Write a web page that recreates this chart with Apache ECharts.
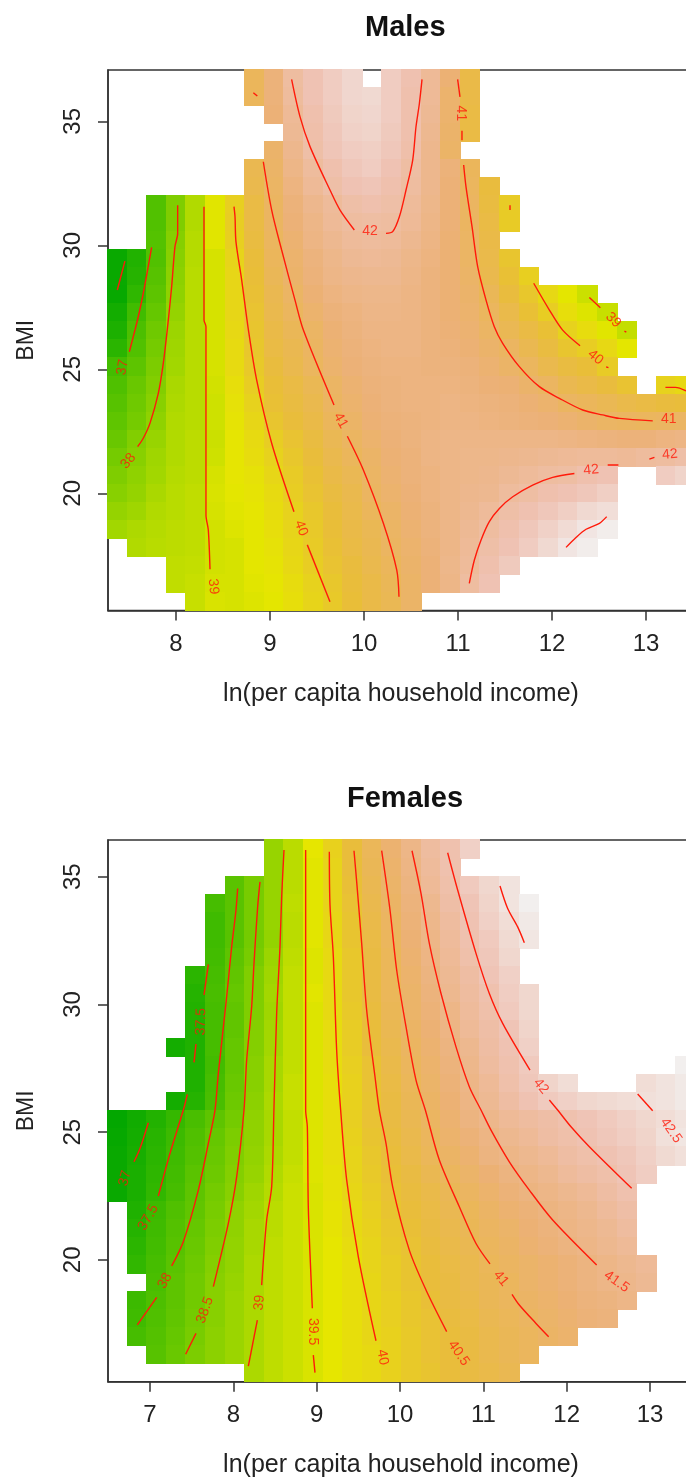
<!DOCTYPE html>
<html><head><meta charset="utf-8">
<style>html,body{margin:0;padding:0;background:#fff}#c{width:686px;height:1478px}</style>
<script src="https://cdn.jsdelivr.net/npm/echarts@6/dist/echarts.min.js"></script>
</head><body><div id="c"></div>
<script>
const _ = null;
const xTicksM = [8,9,10,11,12,13], yTicksM = [20,25,30,35];
const xTicksF = [7,8,9,10,11,12,13], yTicksF = [20,25,30,35];
const maleIncome = [7.376,7.584,7.793,8.001,8.21,8.418,8.627,8.835,9.044,9.252,9.461,9.669,9.878,10.086,10.295,10.503,10.712,10.92,11.129,11.337,11.546,11.754,11.963,12.171,12.38,12.588,12.797,13.005,13.214,13.422];
const maleBmi = [36.725,35.998,35.271,34.544,33.817,33.09,32.363,31.636,30.909,30.182,29.455,28.728,28.001,27.274,26.547,25.82,25.093,24.366,23.639,22.912,22.185,21.458,20.731,20.004,19.277,18.55,17.823,17.096,16.369,15.642];
const femaleIncome = [6.608,6.843,7.078,7.314,7.549,7.784,8.019,8.254,8.49,8.725,8.96,9.195,9.43,9.666,9.901,10.136,10.371,10.606,10.842,11.077,11.312,11.547,11.782,12.018,12.253,12.488,12.723,12.958,13.194,13.429];
const femaleBmi = [36.087,35.38,34.672,33.965,33.258,32.551,31.844,31.137,30.43,29.722,29.015,28.308,27.601,26.894,26.187,25.48,24.772,24.065,23.358,22.651,21.944,21.237,20.53,19.822,19.115,18.408,17.701,16.994,16.287,15.58];

// each row: first column index, then the values from that column on (top row first)
const maleRows = [
[7,40.9,41.4,42.0,42.3,42.5,42.7,_,42.5,42.25,41.85,41.3,40.6],
[7,40.9,41.4,41.95,42.3,42.5,42.7,42.75,42.5,42.2,41.85,41.2,40.6],
[8,41.35,41.85,42.2,42.45,42.65,42.7,42.5,42.2,41.8,41.2,40.55],
[9,41.8,42.15,42.4,42.6,42.65,42.45,42.2,41.75,41.15,40.55],
[8,41.15,41.7,42.1,42.35,42.5,42.55,42.4,42.15,41.7,41.1],
[7,40.75,41.1,41.6,41.95,42.2,42.4,42.5,42.3,42.05,41.7,41.4,40.9],
[7,40.7,41.05,41.5,41.85,42.1,42.3,42.35,42.2,42.0,41.7,41.35,40.95,40.45],
[2,37.2,37.95,38.7,39.35,39.95,40.55,41.0,41.4,41.7,41.9,42.1,42.2,42.1,41.9,41.65,41.35,41.0,40.5,40.05],
[2,37.2,37.95,38.7,39.35,40.0,40.55,41.0,41.35,41.6,41.85,42.0,42.05,42.0,41.85,41.6,41.35,41.0,40.55,40.05],
[2,37.25,38.05,38.75,39.35,39.95,40.5,40.95,41.25,41.55,41.75,41.9,41.95,41.9,41.75,41.55,41.3,41.05,40.6],
[0,35.8,36.3,37.2,38.1,38.75,39.2,39.85,40.4,40.9,41.2,41.45,41.65,41.8,41.85,41.8,41.65,41.5,41.3,41.05,40.65,40.2],
[0,35.8,36.4,37.3,38.15,38.8,39.2,39.8,40.35,40.85,41.15,41.4,41.6,41.7,41.75,41.75,41.6,41.45,41.3,41.1,40.7,40.3,39.95],
[0,35.75,36.6,37.4,38.2,38.8,39.2,39.8,40.3,40.75,41.05,41.3,41.5,41.6,41.65,41.65,41.55,41.45,41.3,41.15,40.85,40.45,40.15,39.75,39.4,39.05],
[0,36.0,36.9,37.55,38.3,38.8,39.2,39.8,40.25,40.7,40.95,41.2,41.4,41.5,41.6,41.6,41.55,41.45,41.3,41.2,40.95,40.65,40.3,40.0,39.6,39.3,39.0],
[0,36.2,37.1,37.7,38.4,38.8,39.2,39.75,40.2,40.6,40.85,41.05,41.3,41.45,41.55,41.55,41.55,41.45,41.35,41.25,41.05,40.8,40.55,40.3,39.9,39.65,39.35,38.95],
[0,36.5,37.2,37.8,38.45,38.8,39.2,39.7,40.15,40.55,40.75,41.0,41.25,41.4,41.5,41.55,41.55,41.45,41.4,41.3,41.15,41.0,40.75,40.5,40.2,40.0,39.75,39.4],
[0,36.95,37.4,37.9,38.5,38.8,39.2,39.7,40.1,40.45,40.7,40.95,41.2,41.35,41.45,41.5,41.5,41.45,41.45,41.4,41.25,41.1,40.95,40.7,40.5,40.35,40.05],
[0,37.15,37.6,38.0,38.6,38.8,39.15,39.6,40.0,40.35,40.55,40.8,41.05,41.25,41.4,41.45,41.5,41.5,41.5,41.45,41.35,41.3,41.15,41.0,40.75,40.6,40.45,40.25,_,39.9,39.75],
[0,37.3,37.7,38.1,38.65,38.8,39.1,39.55,39.9,40.3,40.5,40.7,41.0,41.2,41.35,41.45,41.5,41.5,41.55,41.5,41.45,41.4,41.3,41.2,41.0,40.9,40.8,40.65,40.55,40.45,40.4],
[0,37.45,37.8,38.2,38.7,38.8,39.1,39.5,39.8,40.2,40.4,40.6,40.9,41.1,41.3,41.4,41.45,41.5,41.55,41.55,41.5,41.45,41.4,41.35,41.25,41.15,41.05,41.0,40.95,41.0,41.05],
[0,37.6,38.0,38.35,38.7,38.85,39.05,39.45,39.7,40.0,40.25,40.5,40.8,41.0,41.2,41.35,41.45,41.55,41.6,41.6,41.6,41.6,41.6,41.6,41.55,41.5,41.45,41.4,41.4,41.5,41.55],
[0,37.8,38.1,38.45,38.7,38.85,39.1,39.45,39.65,39.9,40.15,40.4,40.7,40.9,41.1,41.3,41.4,41.55,41.6,41.65,41.65,41.7,41.75,41.8,41.85,41.9,41.9,41.85,41.95,42.0,42.1],
[0,37.95,38.2,38.5,38.75,38.85,39.2,39.45,39.55,39.8,40.05,40.3,40.6,40.8,41.05,41.25,41.4,41.5,41.6,41.65,41.7,41.8,41.9,42.0,42.05,42.2,42.3,_,_,42.5,42.65],
[0,38.1,38.3,38.6,38.8,38.9,39.25,39.4,39.5,39.7,40.0,40.25,40.5,40.7,41.0,41.2,41.35,41.5,41.6,41.7,41.75,41.95,42.05,42.2,42.3,42.4,42.55],
[0,38.3,38.45,38.7,38.8,38.9,39.2,39.35,39.45,39.65,39.9,40.15,40.4,40.65,40.9,41.1,41.3,41.45,41.6,41.75,41.9,42.1,42.25,42.4,42.55,42.75,42.85],
[0,38.5,38.65,38.75,38.85,38.9,39.15,39.3,39.4,39.6,39.85,40.1,40.35,40.6,40.8,41.05,41.25,41.45,41.6,41.8,42.0,42.2,42.4,42.6,42.8,43.0,43.15],
[1,38.7,38.8,38.85,38.9,39.15,39.2,39.4,39.55,39.8,40.05,40.3,40.55,40.75,41.0,41.2,41.4,41.6,41.85,42.1,42.3,42.5,42.75,43.0,43.15],
[3,38.9,38.95,39.15,39.2,39.4,39.5,39.75,40.0,40.25,40.45,40.7,40.9,41.15,41.35,41.65,41.9,42.2,42.45],
[3,38.9,39.0,39.2,39.2,39.35,39.45,39.65,39.9,40.15,40.4,40.6,40.85,41.1,41.35,41.6,42.0,42.3],
[4,39.0,39.25,39.2,39.3,39.4,39.6,39.85,40.1,40.35,40.6,40.8,41.1]
];
const femaleRows = [
[8,38.8,39.2,39.7,40.1,40.5,40.9,41.2,41.5,41.8,42.0,42.3],
[8,38.8,39.2,39.65,40.05,40.5,40.85,41.15,41.45,41.75,42.0],
[6,38.0,38.4,38.8,39.2,39.65,40.05,40.45,40.8,41.1,41.4,41.7,41.95,42.2,42.4,42.6],
[5,37.7,38.0,38.4,38.8,39.25,39.65,40.05,40.4,40.75,41.05,41.35,41.6,41.9,42.1,42.35,42.6,42.8],
[5,37.6,38.0,38.4,38.8,39.2,39.65,40.0,40.35,40.7,41.0,41.3,41.55,41.8,42.05,42.3,42.5,42.7],
[5,37.6,37.95,38.35,38.75,39.2,39.65,40.0,40.35,40.65,40.95,41.25,41.5,41.75,42.0,42.2,42.45,42.65],
[5,37.65,38.05,38.4,38.85,39.25,39.6,39.95,40.3,40.6,40.9,41.2,41.45,41.7,41.95,42.15,42.4],
[4,37.3,37.7,38.1,38.5,38.9,39.3,39.6,39.95,40.3,40.6,40.9,41.15,41.4,41.65,41.85,42.1,42.3],
[4,37.2,37.75,38.15,38.5,38.95,39.3,39.65,39.95,40.3,40.6,40.9,41.1,41.35,41.6,41.8,42.0,42.25,42.4],
[4,37.15,37.7,38.1,38.5,38.9,39.3,39.6,39.95,40.25,40.55,40.85,41.1,41.3,41.5,41.75,41.95,42.2,42.4],
[4,37.1,37.7,38.1,38.55,38.95,39.3,39.6,39.9,40.2,40.5,40.8,41.05,41.25,41.45,41.7,41.9,42.1,42.35],
[3,36.9,37.1,37.7,38.15,38.55,38.95,39.3,39.6,39.9,40.2,40.5,40.75,41.0,41.2,41.4,41.6,41.85,42.05,42.3],
[4,37.1,37.65,38.15,38.6,39.0,39.3,39.6,39.9,40.15,40.4,40.7,40.95,41.15,41.35,41.55,41.8,42.0,42.2,_,_,_,_,_,_,_,42.8],
[4,37.1,37.7,38.2,38.6,39.0,39.35,39.6,39.85,40.1,40.4,40.65,40.9,41.1,41.3,41.5,41.7,41.95,42.15,42.35,42.5,_,_,_,42.5,42.6,42.7],
[3,36.9,37.2,37.75,38.25,38.65,39.05,39.35,39.6,39.85,40.1,40.35,40.6,40.85,41.05,41.25,41.45,41.65,41.85,42.05,42.2,42.3,42.4,42.45,42.5,42.55,42.6,42.7],
[0,36.6,36.85,37.15,37.45,37.75,38.05,38.35,38.7,39.0,39.3,39.6,39.85,40.15,40.4,40.6,40.8,41.0,41.2,41.4,41.55,41.7,41.8,41.9,42.0,42.1,42.2,42.3,42.4,42.5,42.6],
[0,36.65,36.9,37.25,37.55,37.85,38.15,38.45,38.7,39.0,39.3,39.6,39.85,40.1,40.35,40.55,40.75,40.95,41.15,41.3,41.45,41.6,41.7,41.85,41.95,42.05,42.15,42.25,42.35,42.55,42.65],
[0,36.7,36.95,37.3,37.6,37.9,38.2,38.5,38.75,39.05,39.3,39.6,39.85,40.05,40.3,40.5,40.7,40.9,41.05,41.2,41.4,41.5,41.6,41.7,41.85,41.95,42.05,42.15,42.3,42.45,42.55],
[0,36.7,37.0,37.35,37.65,38.0,38.25,38.55,38.8,39.1,39.35,39.6,39.8,40.05,40.25,40.45,40.6,40.8,40.95,41.1,41.25,41.4,41.5,41.6,41.75,41.85,41.95,42.1,42.25],
[0,36.7,37.0,37.4,37.7,38.05,38.35,38.6,38.9,39.15,39.4,39.55,39.8,40.0,40.2,40.4,40.55,40.7,40.85,41.0,41.15,41.3,41.4,41.5,41.6,41.7,41.85,42.0],
[1,37.1,37.55,37.85,38.1,38.4,38.7,38.95,39.2,39.4,39.55,39.75,39.95,40.15,40.35,40.5,40.65,40.8,40.9,41.05,41.2,41.3,41.4,41.5,41.6,41.75,41.9],
[1,37.2,37.6,37.9,38.15,38.45,38.7,39.0,39.2,39.4,39.55,39.75,39.95,40.1,40.3,40.45,40.6,40.75,40.85,41.0,41.1,41.25,41.35,41.45,41.55,41.65,41.8],
[1,37.3,37.65,37.95,38.2,38.5,38.75,39.0,39.25,39.4,39.55,39.7,39.9,40.05,40.25,40.4,40.55,40.7,40.8,40.95,41.05,41.2,41.3,41.4,41.5,41.6,41.7],
[1,37.4,37.7,38.0,38.25,38.55,38.75,39.05,39.25,39.4,39.55,39.7,39.85,40.05,40.2,40.35,40.5,40.65,40.75,40.9,41.0,41.1,41.2,41.3,41.4,41.5,41.6,41.7],
[2,37.75,38.05,38.3,38.6,38.8,39.05,39.25,39.4,39.55,39.7,39.85,40.0,40.2,40.35,40.5,40.6,40.75,40.85,40.95,41.1,41.2,41.3,41.4,41.5,41.55,41.65],
[1,37.55,37.8,38.05,38.3,38.6,38.85,39.05,39.25,39.4,39.55,39.7,39.85,40.0,40.15,40.3,40.45,40.6,40.7,40.85,40.95,41.05,41.15,41.25,41.35,41.4,41.5],
[1,37.6,37.85,38.1,38.35,38.6,38.85,39.05,39.25,39.4,39.55,39.7,39.85,40.0,40.15,40.3,40.4,40.55,40.65,40.8,40.9,41.0,41.1,41.2,41.3,41.35],
[1,37.7,37.9,38.15,38.4,38.65,38.85,39.05,39.25,39.4,39.55,39.7,39.85,40.0,40.1,40.25,40.4,40.5,40.6,40.75,40.85,40.95,41.05,41.15],
[2,37.95,38.2,38.45,38.65,38.85,39.05,39.25,39.4,39.55,39.7,39.85,39.95,40.1,40.25,40.4,40.5,40.6,40.75,40.85,40.95],
[7,39.05,39.25,39.4,39.55,39.7,39.85,39.95,40.1,40.25,40.35,40.5,40.6,40.7,40.8]
];

// contour pieces, [income, BMI] pairs
const maleContours = [
[[7.457,29.365],[7.376,28.2]],
[[7.741,29.92],[7.652,28.06],[7.599,27.12],[7.564,26.585],[7.504,25.71]],
[[8.018,31.62],[8.018,30.48],[7.989,29.94],[7.954,28.33],[7.911,26.72],[7.865,25.24],[7.812,24.03],[7.723,22.82],[7.652,22.22],[7.592,21.88]],
[[8.298,31.56],[8.298,26.99],[8.319,26.72],[8.319,19.13],[8.344,18.52],[8.362,16.94]],
[[8.617,31.56],[8.628,31.15],[8.638,30.15],[8.699,28.6],[8.77,26.6],[8.858,24.57],[9.018,22.02],[9.255,19.26]],
[[9.397,17.92],[9.638,15.63]],
[[8.929,33.37],[9.018,31.42],[9.124,29.81],[9.266,27.79],[9.355,26.585],[9.681,23.56]],
[[9.823,22.3],[9.993,20.94],[10.206,18.79],[10.348,16.91],[10.372,15.83]],
[[9.23,36.69],[9.319,35.19],[9.426,33.98],[9.638,32.23],[9.745,31.42],[9.897,30.62]],
[[10.234,30.48],[10.305,30.55],[10.376,31.15],[10.447,32.23],[10.518,33.44],[10.553,34.78],[10.589,35.72],[10.617,36.69]],
[[8.823,36.15],[8.865,36.02]],
[[10.996,36.69],[11.021,35.99]],
[[11.042,34.62],[11.042,34.24]],
[[11.06,33.24],[11.085,32.36],[11.149,30.75],[11.209,29.14],[11.298,27.79],[11.386,26.72],[11.475,26.05],[11.652,25.11],[11.865,24.3],[12.078,23.83],[12.326,23.36],[12.539,23.16],[12.716,23.02],[13.071,22.92]],
[[13.206,24.27],[13.312,24.27],[13.425,24.13]],
[[11.805,28.47],[11.972,27.39],[12.113,26.58],[12.298,25.95]],
[[12.575,25.1],[12.6,25.07]],
[[12.397,27.9],[12.514,27.48]],
[[12.77,26.54],[12.79,26.5]],
[[11.553,31.62],[11.553,31.42]],
[[11.12,16.37],[11.174,17.31],[11.245,18.12],[11.333,18.86],[11.44,19.39],[11.582,19.86],[11.794,20.33],[12.007,20.64],[12.238,20.8]],
[[12.592,21.14],[12.706,21.14]],
[[13.035,21.38],[13.089,21.45]],
[[12.149,17.82],[12.255,18.22],[12.362,18.55],[12.504,18.79],[12.582,19.06]]
];
const maleLabels = [
['37',7.433,25.08,80],['38',7.493,21.3,50],['39',8.397,16.24,-85],['40',9.33,18.59,-70],['41',9.752,22.93,-60],
['42',10.064,30.59,0],['41',11.032,35.32,-90],['41',13.241,22.98,0],['40',12.461,25.48,-40],['39',12.652,26.99,-45],
['42',12.415,20.94,5],['42',13.255,21.57,5]
];
const femaleContours = [
[[7.7,31.57],[7.648,30.37]],
[[7.552,28.45],[7.528,27.73]],
[[7.448,26.48],[7.4,25.865],[7.24,24.17],[7.1,22.5]],
[[6.98,25.37],[6.88,24.36],[6.808,23.84]],
[[8.052,34.54],[8.032,33.7],[7.98,32.26],[7.92,30.3],[7.82,27.3],[7.78,25.865],[7.7,24.56],[7.58,22.73],[7.4,20.71],[7.26,19.76]],
[[7.08,18.53],[6.848,17.45]],
[[8.32,34.8],[8.292,33.83],[8.248,31.61],[8.22,29.91],[8.16,27.82],[8.128,25.865],[8.04,23.25],[7.94,21.43],[7.76,18.95]],
[[7.552,17.12],[7.428,16.3]],
[[8.608,36.05],[8.58,34.22],[8.56,32.26],[8.52,29.65],[8.488,25.99],[8.46,22.86],[8.4,21.56],[8.34,19.01]],
[[8.288,17.64],[8.18,15.84]],
[[8.868,36.05],[8.868,25.86],[8.888,25.21],[8.9,22.02],[8.94,18.69],[8.948,18.1]],
[[8.96,16.27],[8.98,15.58]],
[[9.152,35.98],[9.16,33.89],[9.2,31.87],[9.24,28.21],[9.288,25.86],[9.36,23.13],[9.5,20.12],[9.712,16.83]],
[[9.448,36.02],[9.48,34.81],[9.54,32.39],[9.6,29.78],[9.7,27.17],[9.752,25.865],[9.832,24.56],[9.912,22.86],[10.112,20.38],[10.312,18.82],[10.56,17.19]],
[[9.78,36.02],[9.88,33.7],[9.96,31.35],[10.072,29.13],[10.192,27.04],[10.304,25.865],[10.472,23.91],[10.712,22.08],[10.912,20.64],[11.08,19.84]],
[[11.344,18.65],[11.432,18.23],[11.632,17.51],[11.784,16.99]],
[[10.144,36.02],[10.252,34.35],[10.352,32.39],[10.492,30.43],[10.672,28.34],[10.832,26.78],[10.972,25.865],[11.092,25.08],[11.312,23.84],[11.552,22.73],[11.832,21.56],[12.36,19.8]],
[[10.572,35.94],[10.692,34.48],[10.912,32.0],[11.072,30.43],[11.232,29.26],[11.56,27.43]],
[[11.792,26.26],[11.892,25.865],[12.052,25.21],[12.272,24.43],[12.78,22.8]],
[[11.2,34.64],[11.292,33.76],[11.412,33.04],[11.492,32.42]],
[[12.852,26.49],[13.032,25.84]]
];
const femaleLabels = [
['37.5',7.612,29.32,88],['37',6.7,23.19,75],['37.5',6.98,21.66,60],['38',7.18,19.18,60],['38.5',7.66,18.03,70],['39',8.312,18.32,85],
['39.5',8.952,17.19,-90],['40',9.792,16.18,-80],['40.5',10.704,16.34,-55],['41',11.212,19.27,-50],['41.5',12.6,19.14,-35],
['42',11.692,26.8,-50],['42.5',13.252,25.06,-55]
];

const terrain = ['#00a600','#2db600','#63c600','#a0d600','#e6e600','#e9bd3a','#ecb176','#efc2b3','#f2f2f2'];
const textFont = '"Liberation Sans", Arial, sans-serif';
const ink = '#333';

function cells(rows, xs, ys){
  const out = [];
  rows.forEach((r, j) => r.slice(1).forEach((v, k) => { if (v !== null) out.push([xs[r[0] + k], ys[j], v]); }));
  return out;
}
function cellSeries(idx, rows, xs, ys){
  const dx = xs[1] - xs[0], dy = ys[0] - ys[1];
  return {
    type:'custom', xAxisIndex:idx, yAxisIndex:idx, z:2, silent:true, clip:false,
    encode:{x:0, y:1}, data:cells(rows, xs, ys),
    renderItem(params, api){
      const a = api.coord([api.value(0) - dx/2, api.value(1) + dy/2]);
      const b = api.coord([api.value(0) + dx/2, api.value(1) - dy/2]);
      const x0 = Math.floor(a[0]), y0 = Math.floor(a[1]), x1 = Math.ceil(b[0]), y1 = Math.ceil(b[1]);
      return {type:'rect', shape:{x:x0, y:y0, width:x1-x0, height:y1-y0},
        style:{fill:api.visual('color')}};
    }
  };
}
function lineSeries(idx, pieces){
  return pieces.map(p => ({type:'line', xAxisIndex:idx, yAxisIndex:idx, z:3, silent:true, symbol:'none', animation:false,
    smooth:0.3, lineStyle:{color:'#ff1a0a', width:1.4}, data:p}));
}
function labelSeries(idx, labels){
  return {type:'scatter', xAxisIndex:idx, yAxisIndex:idx, z:4, silent:true, symbolSize:0,
    data:labels.map(l => ({name:l[0], value:[l[1], l[2]],
      label:{show:true, position:'inside', rotate:l[3], formatter:l[0], color:'#ff1a0a', fontSize:14, fontFamily:textFont}}))};
}
function xAxis(gi, min, max, ticks){
  return {type:'value', gridIndex:gi, min, max, position:'bottom', splitLine:{show:false},
    axisLine:{show:true, onZero:false, lineStyle:{color:ink, width:1.5}},
    axisTick:{show:true, length:10, customValues:ticks, lineStyle:{color:ink, width:1.5}},
    axisLabel:{customValues:ticks, margin:22, fontSize:24, color:'#222', fontFamily:textFont, showMinLabel:true, showMaxLabel:true},
    name:'ln(per capita household income)', nameLocation:'middle', nameGap:71,
    nameTextStyle:{fontSize:25, color:'#222', fontFamily:textFont}};
}
function yAxis(gi, min, max, ticks){
  return {type:'value', gridIndex:gi, min, max, position:'left', splitLine:{show:false},
    axisLine:{show:true, onZero:false, lineStyle:{color:ink, width:1.5}},
    axisTick:{show:true, length:10, customValues:ticks, lineStyle:{color:ink, width:1.5}},
    axisLabel:{customValues:ticks, rotate:90, margin:23, fontSize:24, color:'#222', fontFamily:textFont},
    name:'BMI', nameLocation:'middle', nameGap:70, nameRotate:90,
    nameTextStyle:{fontSize:23, color:'#222', fontFamily:textFont}};
}
const chart = echarts.init(document.getElementById('c'), null, {renderer:'canvas'});
chart.setOption({
  animation:false, backgroundColor:'#fff',
  title:[
    {text:'Males', left:360, top:8, textStyle:{fontSize:29, fontWeight:'bold', color:'#111', fontFamily:textFont}},
    {text:'Females', left:342, top:779, textStyle:{fontSize:29, fontWeight:'bold', color:'#111', fontFamily:textFont}}
  ],
  grid:[
    {left:108, top:70, width:586, height:540.5, show:true, outerBoundsMode:'none', borderColor:ink, borderWidth:1.5, backgroundColor:'transparent'},
    {left:108, top:840, width:586, height:541.7, show:true, outerBoundsMode:'none', borderColor:ink, borderWidth:1.5, backgroundColor:'transparent'}
  ],
  xAxis:[xAxis(0, 7.277, 13.51, xTicksM), xAxis(1, 6.496, 13.528, xTicksF)],
  yAxis:[yAxis(0, 15.274, 37.07, yTicksM), yAxis(1, 15.227, 36.44, yTicksF)],
  visualMap:[
    {show:false, type:'continuous', seriesIndex:0, dimension:2, min:35.6, max:43.25, inRange:{color:terrain}},
    {show:false, type:'continuous', seriesIndex:1, dimension:2, min:36.55, max:42.85, inRange:{color:terrain}}
  ],
  series:[
    cellSeries(0, maleRows, maleIncome, maleBmi),
    cellSeries(1, femaleRows, femaleIncome, femaleBmi),
    labelSeries(0, maleLabels),
    labelSeries(1, femaleLabels),
    ...lineSeries(0, maleContours),
    ...lineSeries(1, femaleContours)
  ]
});
</script></body></html>
